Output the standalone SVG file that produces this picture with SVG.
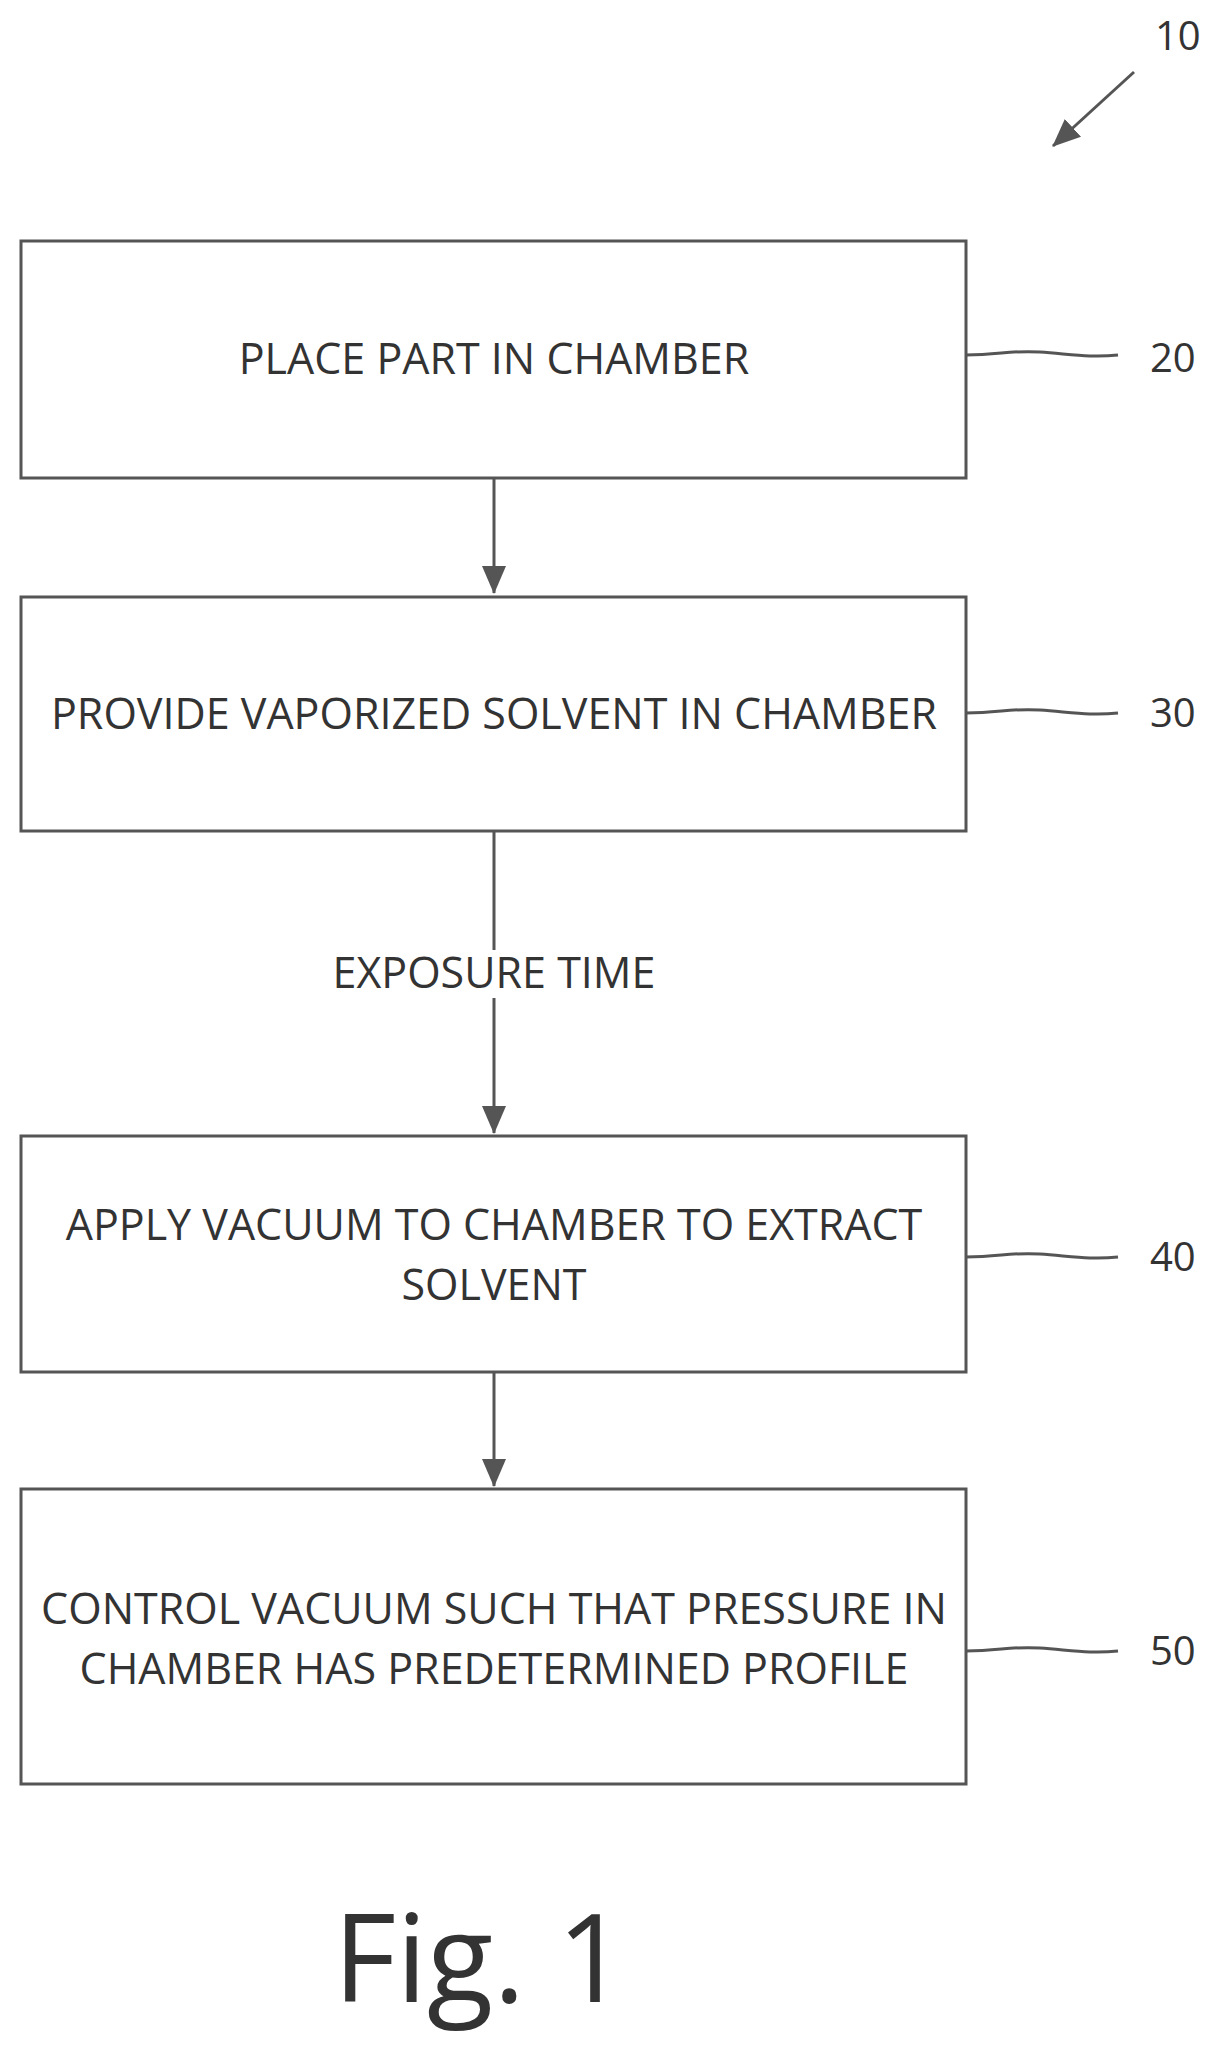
<svg xmlns="http://www.w3.org/2000/svg" width="1225" height="2045" viewBox="0 0 1225 2045">
<style>
.box{fill:#fff;stroke:#555;stroke-width:3}
.t{font-family:"Open Sans","Liberation Sans",sans-serif;font-size:43px;fill:#333;text-anchor:middle}
.n{font-family:"Open Sans","Liberation Sans",sans-serif;font-size:40px;fill:#333}
.c{stroke:#555;stroke-width:3;fill:none}
</style>
<defs>
<marker id="b" markerWidth="28" markerHeight="28" refX="27" refY="14" orient="auto" markerUnits="userSpaceOnUse" viewBox="0 0 28 28"><path d="M0,2L28,14L0,26z" fill="#555"/></marker></defs>
<rect width="1225" height="2045" fill="#fff"/>
<g id="n20"><rect class="box" x="21" y="241" width="945" height="237"/><text class="t" x="494" y="374">PLACE PART IN CHAMBER</text><path class="c" d="M966,355 C1000,355 1010,350 1040,352 S1090,358 1118,355"/><text class="n" x="1150" y="372">20</text></g>
<g id="n30"><rect class="box" x="21" y="597" width="945" height="234"/><text class="t" x="494" y="729">PROVIDE VAPORIZED SOLVENT IN CHAMBER</text><path class="c" d="M966,713 C1000,713 1010,708 1040,710 S1090,716 1118,713"/><text class="n" x="1150" y="727">30</text></g>
<g id="n40"><rect class="box" x="21" y="1136" width="945" height="236"/><text class="t" x="494" y="1240">APPLY VACUUM TO CHAMBER TO EXTRACT</text><text class="t" x="494" y="1300">SOLVENT</text><path class="c" d="M966,1257 C1000,1257 1010,1252 1040,1254 S1090,1260 1118,1257"/><text class="n" x="1150" y="1271">40</text></g>
<g id="n50"><rect class="box" x="21" y="1489" width="945" height="295"/><text class="t" x="494" y="1624">CONTROL VACUUM SUCH THAT PRESSURE IN</text><text class="t" x="494" y="1684">CHAMBER HAS PREDETERMINED PROFILE</text><path class="c" d="M966,1651 C1000,1651 1010,1646 1040,1648 S1090,1654 1118,1651"/><text class="n" x="1150" y="1665">50</text></g>
<g id="connectors">
<line class="c" x1="494" y1="478" x2="494" y2="593" marker-end="url(#b)"/>
<line class="c" x1="494" y1="831" x2="494" y2="1133" marker-end="url(#b)"/>
<line class="c" x1="494" y1="1372" x2="494" y2="1486" marker-end="url(#b)"/>
<rect x="330" y="950" width="330" height="48" fill="#fff"/>
<text class="t" x="494" y="988">EXPOSURE TIME</text>
<line class="c" x1="1134" y1="72" x2="1053" y2="146" marker-end="url(#b)"/>
<text class="n" x="1155" y="50">10</text>
</g>
<text x="480" y="2002" font-family="Open Sans,Liberation Sans,sans-serif" font-size="122" fill="#333" text-anchor="middle">Fig. 1</text>
</svg>
